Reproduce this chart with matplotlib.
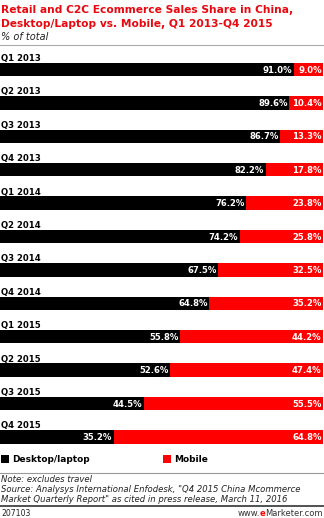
import matplotlib
matplotlib.use("Agg")
import matplotlib.pyplot as plt
from matplotlib.patches import Rectangle
from matplotlib.lines import Line2D

########## Data
quarters = ["Q1 2013", "Q2 2013", "Q3 2013", "Q4 2013",
            "Q1 2014", "Q2 2014", "Q3 2014", "Q4 2014",
            "Q1 2015", "Q2 2015", "Q3 2015", "Q4 2015"]
desktop = [91.0, 89.6, 86.7, 82.2, 76.2, 74.2, 67.5, 64.8, 55.8, 52.6, 44.5, 35.2]
mobile = [9.0, 10.4, 13.3, 17.8, 23.8, 25.8, 32.5, 35.2, 44.2, 47.4, 55.5, 64.8]
series_names = ["Desktop/laptop", "Mobile"]

RED = "#ff0000"
TITLE_RED = "#e8080f"
BLACK = "#000000"
W, H = 324, 518

plt.rcParams["font.family"] = "DejaVu Sans"

fig = plt.figure(figsize=(W / 100, H / 100), dpi=100)


def fy(px):
    # pixel row (from top) -> figure fraction
    return 1 - px / H


def fx(px):
    return px / W


########## Title block
title_lines = ["Retail and C2C Ecommerce Sales Share in China,",
               "Desktop/Laptop vs. Mobile, Q1 2013-Q4 2015"]
for k, line in enumerate(title_lines):
    fig.text(fx(1), fy(10 + 14 * k), line, color=TITLE_RED, fontsize=7.7,
             fontweight="bold", va="center", ha="left")
fig.text(fx(1), fy(37), "% of total", fontsize=7.0, style="italic", va="center", ha="left", color="#222222")
fig.add_artist(Line2D([0, 1], [fy(45), fy(45)], color="#aaaaaa", lw=0.8))

########## Bars
n = len(quarters)
step = 33.4
top_px = 69.5 - step / 2
bot_px = 69.5 + step * (n - 1) + step / 2
ax = fig.add_axes([0, fy(bot_px), 323 / W, (bot_px - top_px) / H])
ax.set_xlim(0, 100)
ax.set_ylim(n - 0.5, -0.5)
ax.axis("off")

ypos = list(range(n))
bh = 13.5 / step
ax.barh(ypos, desktop, height=bh, color=BLACK, linewidth=0)
ax.barh(ypos, mobile, left=desktop, height=bh, color=RED, linewidth=0)

for i in ypos:
    ax.text(0.3, i - 0.33, quarters[i], fontsize=6.1, fontweight="bold", va="center", ha="left")
    ax.text(desktop[i] - 0.5, i + 0.02, f"{desktop[i]:.1f}%", color="white", fontsize=6.1,
            fontweight="bold", va="center", ha="right")
    ax.text(99.6, i + 0.02, f"{mobile[i]:.1f}%", color="white", fontsize=6.1,
            fontweight="bold", va="center", ha="right")

########## Legend
for x0, c, name in [(0, BLACK, series_names[0]), (162, RED, series_names[1])]:
    fig.add_artist(Rectangle((fx(x0 + 0.5), fy(463)), fx(8), 8 / H, color=c, lw=0))
    fig.text(fx(x0 + 12), fy(459), name, fontsize=6.5, fontweight="bold", va="center", ha="left")

fig.add_artist(Line2D([0, 1], [fy(472.5), fy(472.5)], color="#999999", lw=0.8))

########## Notes
notes = ["Note: excludes travel",
         "Source: Analysys International Enfodesk, \"Q4 2015 China Mcommerce",
         "Market Quarterly Report\" as cited in press release, March 11, 2016"]
for k, line in enumerate(notes):
    fig.text(fx(1), fy(480 + 10 * k), line, fontsize=6.1, style="italic", va="center", ha="left", color="#222222")

fig.add_artist(Line2D([0, 1], [fy(506), fy(506)], color="#333333", lw=1.2))
fig.text(fx(1), fy(513), "207103", fontsize=5.6, va="center", ha="left", color="#222222")

# footer brand with red "e"
t1 = fig.text(fx(323), fy(513), "Marketer.com", fontsize=6.0, va="center", ha="right", color="#333333")
fig.canvas.draw()
bb = t1.get_window_extent()
t2 = fig.text(bb.x0 / W, fy(513), "e", fontsize=6.0, fontweight="bold", va="center", ha="right", color=RED)
fig.canvas.draw()
bb2 = t2.get_window_extent()
fig.text(bb2.x0 / W, fy(513), "www.", fontsize=6.0, va="center", ha="right", color="#333333")

fig.savefig("out.png", dpi=100)
